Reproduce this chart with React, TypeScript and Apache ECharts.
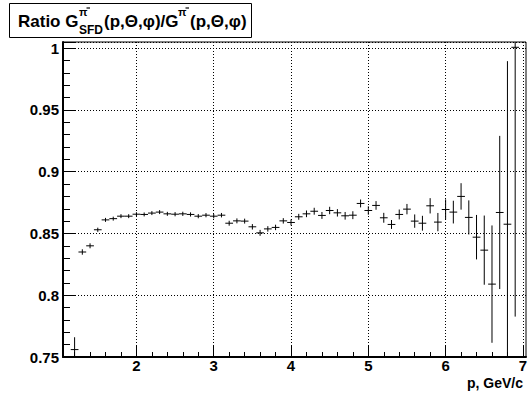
import React, { useEffect, useRef } from 'react';
import * as echarts from 'echarts';

// ---- data ----
const binCenters = [
  1.2, 1.3, 1.4, 1.5, 1.6, 1.7, 1.8, 1.9, 2.0, 2.1,
  2.2, 2.3, 2.4, 2.5, 2.6, 2.7, 2.8, 2.9, 3.0, 3.1,
  3.2, 3.3, 3.4, 3.5, 3.6, 3.7, 3.8, 3.9, 4.0, 4.1,
  4.2, 4.3, 4.4, 4.5, 4.6, 4.7, 4.8, 4.9, 5.0, 5.1,
  5.2, 5.3, 5.4, 5.5, 5.6, 5.7, 5.8, 5.9, 6.0, 6.1,
  6.2, 6.3, 6.4, 6.5, 6.6, 6.7, 6.8, 6.9,
];
const ratio = [
  0.756, 0.835, 0.840, 0.853, 0.861, 0.862, 0.864, 0.864, 0.8656, 0.8654,
  0.8665, 0.8673, 0.8659, 0.8656, 0.8659, 0.8654, 0.864, 0.8648, 0.864, 0.8648,
  0.8583, 0.8602, 0.860, 0.8554, 0.8505, 0.8537, 0.8549, 0.8602, 0.8589, 0.8635,
  0.8659, 0.868, 0.8646, 0.8686, 0.8667, 0.8643, 0.8648, 0.8743, 0.8686, 0.8727,
  0.8627, 0.8573, 0.8654, 0.8697, 0.860, 0.8583, 0.8724, 0.8592, 0.8694, 0.8673,
  0.880, 0.863, 0.847, 0.8365, 0.809, 0.867, 0.8575, 1.0007,
];
const ratioErr = [
  0.010, 0.0022, 0.002, 0.0017, 0.0016, 0.0016, 0.0016, 0.0016, 0.0016, 0.0016,
  0.0016, 0.0016, 0.0016, 0.0017, 0.0017, 0.0017, 0.0017, 0.0017, 0.0018, 0.0018,
  0.002, 0.002, 0.002, 0.0022, 0.0024, 0.0022, 0.0022, 0.0022, 0.0024, 0.0024,
  0.0027, 0.0028, 0.0028, 0.003, 0.003, 0.0031, 0.0032, 0.0032, 0.0034, 0.0035,
  0.004, 0.0036, 0.004, 0.0042, 0.0054, 0.006, 0.0062, 0.0074, 0.0082, 0.0092,
  0.0107, 0.0138, 0.018, 0.028, 0.0475, 0.062, 0.132, 0.218,
];
const binWidth = 0.1;
const xMajorTicks = [2, 3, 4, 5, 6, 7];
const xMinorTicks = [
  1.2, 1.4, 1.6, 1.8, 2.2, 2.4, 2.6, 2.8, 3.2, 3.4, 3.6, 3.8,
  4.2, 4.4, 4.6, 4.8, 5.2, 5.4, 5.6, 5.8, 6.2, 6.4, 6.6, 6.8,
];
const yTickLabels = [0.75, 0.8, 0.85, 0.9, 0.95, 1];

const X_MIN = 1.05;
const X_MAX = 7.04;
const Y_MIN = 0.75;
const Y_MAX = 1.005;

const FONT = '"Liberation Sans", Arial, Helvetica, sans-serif';

export default function App() {
  const ref = useRef<HTMLDivElement>(null);

  useEffect(() => {
    if (!ref.current) return;
    const chart = echarts.init(ref.current, undefined, { renderer: 'svg' });

    const gridPos = { left: 63, top: 42, right: 2, bottom: 37 };

    const labelStyle = {
      color: '#000',
      fontFamily: FONT,
      fontWeight: 'bold' as const,
      fontSize: 15,
    };

    const txt = (text: string, x: number, y: number, size: number, align = 'left') => ({
      type: 'text',
      x,
      y,
      z: 11,
      style: { text, fontSize: size, fontWeight: 'bold', fontFamily: FONT, fill: '#000', align, verticalAlign: 'middle' },
    });
    const minus = (x: number, y: number) => ({
      type: 'line',
      z: 11,
      shape: { x1: x, y1: y, x2: x + 3.5, y2: y },
      style: { stroke: '#000', lineWidth: 1.2 },
    });

    const option: any = {
      animation: false,
      backgroundColor: '#fff',
      grid: [
        { ...gridPos, show: true, borderColor: '#000', borderWidth: 1, backgroundColor: 'transparent', containLabel: false, outerBoundsMode: 'none' },
        { ...gridPos, show: false, containLabel: false, outerBoundsMode: 'none' },
      ],
      xAxis: [
        {
          type: 'value',
          gridIndex: 0,
          min: X_MIN,
          max: X_MAX,
          axisLine: { show: true, onZero: false, lineStyle: { color: '#000', width: 2 } },
          axisTick: { show: true, inside: true, length: 11, lineStyle: { color: '#000', width: 1 }, customValues: xMajorTicks },
          axisLabel: { ...labelStyle, margin: 1, customValues: xMajorTicks, formatter: (v: number) => String(v) },
          splitLine: { show: true, lineStyle: { color: '#000', width: 1, type: [1, 2] } },
          minorTick: { show: false },
        },
        {
          type: 'value',
          gridIndex: 1,
          min: X_MIN,
          max: X_MAX,
          position: 'bottom',
          axisLine: { show: false },
          axisTick: { show: true, inside: true, length: 5, lineStyle: { color: '#000', width: 1 }, customValues: xMinorTicks },
          axisLabel: { show: false },
          splitLine: { show: false },
        },
      ],
      yAxis: [
        {
          type: 'value',
          gridIndex: 0,
          min: Y_MIN,
          max: Y_MAX,
          interval: 0.05,
          axisLine: { show: true, onZero: false, lineStyle: { color: '#000', width: 2 } },
          axisTick: { show: true, inside: true, length: 13, lineStyle: { color: '#000', width: 1 } },
          minorTick: { show: true, splitNumber: 5, length: 7, lineStyle: { color: '#000', width: 1 } },
          axisLabel: {
            ...labelStyle,
            margin: 4,
            customValues: yTickLabels,
            formatter: (v: number) => String(parseFloat(v.toFixed(2))),
          },
          splitLine: { show: true, lineStyle: { color: '#000', width: 1, type: [1, 2] } },
        },
        {
          type: 'value',
          gridIndex: 1,
          min: Y_MIN,
          max: Y_MAX,
          show: false,
        },
      ],
      graphic: [
        {
          type: 'rect',
          shape: { x: 9.5, y: 3.5, width: 242, height: 34 },
          style: { fill: '#fff', stroke: '#000', lineWidth: 1 },
          z: 10,
        },
        txt('Ratio G', 18, 21.5, 17),
        txt('π', 79, 12, 11),
        minus(86.5, 8),
        txt('SFD', 79, 30, 12),
        txt('(p,Θ,φ)/G', 104, 21.5, 17),
        txt('π', 178, 12, 11),
        minus(185.5, 8),
        txt('(p,Θ,φ)', 190, 21.5, 17),
        txt('p, GeV/c', 523, 383, 14, 'right'),
      ],
      series: [
        {
          type: 'custom',
          xAxisIndex: 0,
          yAxisIndex: 0,
          clip: true,
          encode: { x: 0, y: 1 },
          data: binCenters.map((x, i) => [x, ratio[i], ratioErr[i]]),
          renderItem: (params: any, api: any) => {
            const x = api.value(0);
            const y = api.value(1);
            const e = api.value(2);
            const lo = Math.max(y - e, Y_MIN);
            const hi = Math.min(y + e, Y_MAX);
            const children: any[] = [];
            const p1 = api.coord([x, lo]);
            const p2 = api.coord([x, hi]);
            children.push({
              type: 'line',
              shape: { x1: p1[0], y1: p1[1], x2: p2[0], y2: p2[1] },
              style: { stroke: '#000', lineWidth: 1 },
            });
            if (y >= Y_MIN && y <= Y_MAX) {
              const a = api.coord([x - binWidth / 2, y]);
              const b = api.coord([x + binWidth / 2, y]);
              children.push({
                type: 'line',
                shape: { x1: a[0], y1: a[1], x2: b[0], y2: b[1] },
                style: { stroke: '#000', lineWidth: 1 },
              });
            }
            return { type: 'group', children };
          },
        },
      ],
    };

    chart.setOption(option);
    return () => chart.dispose();
  }, []);

  return (
    <div
      ref={ref}
      style={{ position: 'absolute', left: 0, top: 0, width: 528, height: 394, background: '#fff' }}
    />
  );
}
